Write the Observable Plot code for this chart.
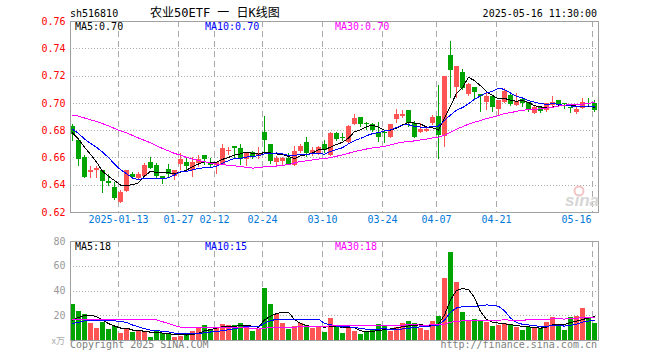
<!DOCTYPE html>
<html><head><meta charset="utf-8">
<script src="https://cdn.jsdelivr.net/npm/d3@7"></script>
<script src="https://cdn.jsdelivr.net/npm/@observablehq/plot@0.6"></script>
<style>
html,body{margin:0;padding:0;background:#fff;}
#wrap{position:relative;width:660px;height:360px;overflow:hidden;background:#fff;}
#wrap svg{position:absolute;left:0;}
</style></head>
<body><div id="wrap"></div>
<script>
// ---- data (trading-day index 0 = 2024-12-31 ... 87 = 2025-05-16) ----
const open  = [0.683,0.673,0.660,0.649,0.6505,0.651,0.643,0.638,0.627,0.6355,
  0.648,0.6452,0.6464,0.6563,0.6548,0.6462,0.6518,0.6464,0.6553,0.6567,
  0.6506,0.656,0.6616,0.6567,0.6543,0.6555,0.6649,0.6683,0.667,0.6587,
  0.6643,0.6616,0.6783,0.6697,0.6567,0.6572,0.6597,0.6543,0.6648,0.6712,
  0.6624,0.6629,0.6702,0.6616,0.678,0.6751,0.6714,0.6842,0.6893,0.6854,
  0.6844,0.6788,0.6786,0.6751,0.6879,0.6903,0.6947,0.6849,0.6788,0.6795,
  0.6856,0.6903,0.6756,0.7351,0.7114,0.7228,0.7062,0.7114,0.7064,0.7008,
  0.7052,0.6958,0.7008,0.7057,0.6984,0.7025,0.7008,0.6923,0.6971,0.6947,
  0.6984,0.702,0.7001,0.6971,0.6934,0.6959,0.7001,0.7001];
const high  = [0.6844,0.674,0.662,0.654,0.654,0.651,0.648,0.642,0.636,0.651,
  0.649,0.6494,0.656,0.660,0.656,0.6462,0.655,0.6511,0.6629,0.6597,
  0.660,0.6621,0.6616,0.6594,0.6567,0.6702,0.6677,0.6683,0.6702,0.6638,
  0.665,0.6673,0.6903,0.6697,0.6609,0.6604,0.6629,0.6683,0.6702,0.6751,
  0.6673,0.6683,0.6727,0.6788,0.6788,0.6776,0.6837,0.6918,0.6893,0.6861,
  0.6851,0.6861,0.680,0.6844,0.6952,0.6947,0.6947,0.6868,0.6849,0.6832,
  0.691,0.713,0.720,0.7454,0.727,0.7248,0.7147,0.7114,0.7064,0.7081,
  0.7052,0.702,0.7106,0.7074,0.7074,0.7025,0.7008,0.6976,0.6976,0.6996,
  0.705,0.702,0.7001,0.6971,0.6971,0.7033,0.7037,0.7018];
const low   = [0.672,0.654,0.645,0.645,0.645,0.634,0.639,0.629,0.6266,0.6347,
  0.645,0.6445,0.6457,0.6514,0.645,0.6404,0.6452,0.6433,0.6506,0.6506,
  0.6457,0.653,0.6543,0.6523,0.6482,0.6548,0.6616,0.6592,0.6543,0.6538,
  0.6592,0.6585,0.6641,0.6555,0.6536,0.6543,0.655,0.6536,0.6629,0.660,
  0.6609,0.6616,0.6634,0.6609,0.6722,0.6722,0.6707,0.6837,0.6824,0.680,
  0.679,0.6714,0.6707,0.6744,0.6854,0.6886,0.6824,0.6739,0.6776,0.6783,
  0.6837,0.6592,0.6677,0.7033,0.7033,0.7094,0.7052,0.702,0.6934,0.6947,
  0.6934,0.691,0.700,0.6976,0.6976,0.6971,0.6934,0.6915,0.6927,0.6934,
  0.6971,0.6971,0.6952,0.6923,0.6915,0.6952,0.6987,0.6934];
const close = [0.677,0.659,0.646,0.651,0.652,0.643,0.641,0.630,0.6345,0.6506,
  0.6457,0.6477,0.6548,0.6523,0.6464,0.6445,0.6479,0.6506,0.6587,0.6536,
  0.6565,0.6585,0.6587,0.6543,0.6567,0.6666,0.6656,0.667,0.6587,0.6638,
  0.6614,0.6633,0.6727,0.6575,0.6597,0.6597,0.6555,0.665,0.6683,0.6633,
  0.6658,0.6673,0.6653,0.6776,0.6732,0.6739,0.6829,0.6886,0.6844,0.6844,
  0.680,0.6751,0.6781,0.6844,0.6915,0.6915,0.6854,0.6751,0.6807,0.6805,
  0.6893,0.6763,0.720,0.7241,0.727,0.7106,0.7136,0.7081,0.7052,0.7052,
  0.6967,0.702,0.7089,0.6989,0.7013,0.6996,0.6947,0.6971,0.6942,0.6996,
  0.7008,0.6989,0.6991,0.6959,0.6952,0.7008,0.6991,0.6947];
const volume = [29,23.4,21,13.8,9.8,14.6,9,11.4,5.6,9.8,
  6.6,8.2,6.6,2.6,7.2,5.6,5.6,2.6,3.4,5,
  7.4,10.6,12.2,9,10.6,13,12.2,12,13.8,11.4,
  7.4,9,41.8,29,21.3,13.8,9,11.4,13.8,12,
  9.8,11.4,6.6,17.8,11.4,5.8,9.8,7.4,5,6.6,
  8.2,13,11.4,7.4,10.6,13.8,15.4,13.8,9.8,8.2,
  15.4,19.4,49.8,71.4,46.6,22.6,15.4,17,15.4,14.6,
  11.4,12.2,13.8,12.2,10.6,8.2,10.6,10.6,9.8,14.6,
  18.4,13,8.2,18.6,19.4,25.8,18.6,13.8];
// 29 sessions before the first visible one (off-chart, estimated from the MA curves)
const priorClose = [0.684,0.686,0.690,0.688,0.692,0.687,0.690,0.688,
  0.695,0.700,0.705,0.708,0.706,0.710,0.704,0.702,0.705,0.701,
  0.698,0.694,0.690,0.686,0.684,0.680,0.678,0.682,0.676,0.677,0.680];
const priorVolume = [22,20,15,12,16,10,13,8,11,8,10,9,6,9,
  48,52,50,44,10,9,12,10,11,9,13,11,14,13,14];

const xTicks = [8,18,24,32,42,52,61,71,87];
const xTickLabels = ["2025-01-13","01-27","02-12","02-24","03-10","03-24","04-07","04-21","05-16"];
const priceTicks = [0.62,0.64,0.66,0.68,0.70,0.72,0.74,0.76];
const volTicks = [20,40,60,80];
const maPeriods = [5,10,30];
const priceMaLabels = ["MA5:0.70","MA10:0.70","MA30:0.70"];
const volMaLabels = ["MA5:18","MA10:15","MA30:18"];
const titleCode = "sh516810";
const titleName = "农业50ETF 一 日K线图";
const stamp = "2025-05-16 11:30:00";

// ---- styles ----
const RED = "#ff5454", GREEN = "#00a400";
const MA_COLORS = ["#000000","#0000ff","#ff00ff"];
const GRID = "#aaaaaa", FRAME = "#a0a0a0";
const MONO = "'DejaVu Sans Mono','Liberation Mono',monospace";

const rows = open.map((o,i)=>({i,o,h:high[i],l:low[i],c:close[i],v:volume[i]}));
const isUp = d => d.c >= d.o;
function movingAvg(series, prior, n){
  const all = prior.concat(series);
  return series.map((_,i)=>{const k=i+prior.length; return d3.mean(all.slice(k-n+1,k+1));});
}
const priceMA = maPeriods.map(n=>movingAvg(close, priorClose, n));
const volMA = maPeriods.map(n=>movingAvg(volume, priorVolume, n));
const maRows = (arrs) => arrs.flatMap((a,k)=>a.map((v,i)=>({i,v,k})));

const wrap = document.getElementById("wrap");
const xOpt = {domain:[0,88], range:[70,598], axis:null};

const p1 = Plot.plot({
  width:660, height:232, marginLeft:70, marginRight:62, marginTop:21, marginBottom:20,
  x:xOpt, y:{domain:[0.62,0.76], axis:null},
  style:{fontFamily:MONO, fontSize:"10px", background:"transparent", overflow:"visible"},
  marks:[
    Plot.ruleY(priceTicks.slice(1,-1), {stroke:GRID, strokeDasharray:"1,2", shapeRendering:"crispEdges"}),
    Plot.ruleX(xTicks, {x:d=>d, stroke:GRID, strokeDasharray:"6,4", shapeRendering:"crispEdges"}),
    Plot.ruleX(rows, {x:d=>d.i+2/6, y1:"l", y2:"h", stroke:d=>isUp(d)?RED:GREEN, shapeRendering:"crispEdges"}),
    Plot.rect(rows, {x1:"i", x2:d=>d.i+5/6,
      y1:d=>Math.min(d.o,d.c), y2:d=>Math.max(Math.max(d.o,d.c), Math.min(d.o,d.c)+0.0008),
      fill:d=>isUp(d)?RED:GREEN, shapeRendering:"crispEdges"}),
    Plot.line(maRows(priceMA), {x:d=>d.i+2/6, y:"v", z:"k", stroke:d=>MA_COLORS[d.k], strokeWidth:1, shapeRendering:"crispEdges"}),
    Plot.frame({stroke:FRAME, shapeRendering:"crispEdges"}),
    Plot.axisY(priceTicks, {anchor:"left", label:null, tickSize:0, tickPadding:5, tickFormat:d=>d.toFixed(2), fill:"#ff0000", fontSize:10}),
    Plot.text(xTicks.slice(0,-1), {x:d=>d, text:(d,j)=>xTickLabels[j], frameAnchor:"bottom", dy:10, fill:"#0077d9", fontSize:10}),
    Plot.text(xTicks.slice(-1), {x:d=>d, text:()=>xTickLabels[xTickLabels.length-1], frameAnchor:"bottom", dy:10, dx:-1, textAnchor:"end", fill:"#0077d9", fontSize:10})
  ]
});
p1.style.top = "0px";
wrap.appendChild(p1);

const p2 = Plot.plot({
  width:660, height:128, marginLeft:70, marginRight:62, marginTop:9, marginBottom:20,
  x:xOpt, y:{domain:[0,80], axis:null},
  style:{fontFamily:MONO, fontSize:"10px", background:"transparent", overflow:"visible"},
  marks:[
    Plot.ruleY(volTicks.slice(0,-1), {stroke:GRID, strokeDasharray:"1,2", shapeRendering:"crispEdges"}),
    Plot.ruleX(xTicks, {x:d=>d, stroke:GRID, strokeDasharray:"6,4", shapeRendering:"crispEdges"}),
    Plot.rect(rows, {x1:"i", x2:d=>d.i+5/6, y1:0, y2:"v", fill:d=>isUp(d)?RED:GREEN, shapeRendering:"crispEdges"}),
    Plot.line(maRows(volMA), {x:d=>d.i+2/6, y:"v", z:"k", stroke:d=>MA_COLORS[d.k], strokeWidth:1, shapeRendering:"crispEdges"}),
    Plot.frame({stroke:FRAME, shapeRendering:"crispEdges"}),
    Plot.axisY(volTicks, {anchor:"left", label:null, tickSize:0, tickPadding:5, fill:"#999999", fontSize:10})
  ]
});
p2.style.top = "232px";
wrap.appendChild(p2);

// ---- overlay texts ----
const ov = d3.select(wrap).append("svg").attr("width",660).attr("height",360)
  .style("top","0px").style("font-family",MONO).style("font-size","10px");
ov.append("text").attr("x",70).attr("y",16.5).text(titleCode);
ov.append("text").attr("x",150).attr("y",17).style("font-size","12px")
  .style("font-family","'DejaVu Sans Mono','Noto Sans CJK SC',monospace").text(titleName);
ov.append("text").attr("x",597).attr("y",16.5).attr("text-anchor","end").text(stamp);
const maX = [75,205,335];
priceMaLabels.forEach((t,k)=>ov.append("text").attr("x",maX[k]).attr("y",30).attr("fill",MA_COLORS[k]).text(t));
volMaLabels.forEach((t,k)=>ov.append("text").attr("x",maX[k]).attr("y",250).attr("fill",MA_COLORS[k]).text(t));
ov.append("text").attr("x",65).attr("y",344).attr("text-anchor","end").attr("fill","#aaaaaa")
  .style("font-family","'Noto Sans CJK SC',sans-serif").style("font-size","9px").text("x万");
ov.append("text").attr("x",70).attr("y",348).attr("fill","#808080").text("Copyright 2025 SINA.COM");
ov.append("text").attr("x",597).attr("y",348).attr("text-anchor","end").attr("fill","#808080").text("http://finance.sina.com.cn");
// watermark
ov.append("circle").attr("cx",579).attr("cy",191).attr("r",4.5).attr("fill","none").attr("stroke","#f2c4c4").attr("stroke-width",2);
ov.append("text").attr("x",565).attr("y",206).attr("fill","#d6d6d6").style("font-family","'Liberation Sans',sans-serif")
  .style("font-size","17px").style("font-style","italic").style("font-weight","bold").text("sina");
</script>
</body></html>
